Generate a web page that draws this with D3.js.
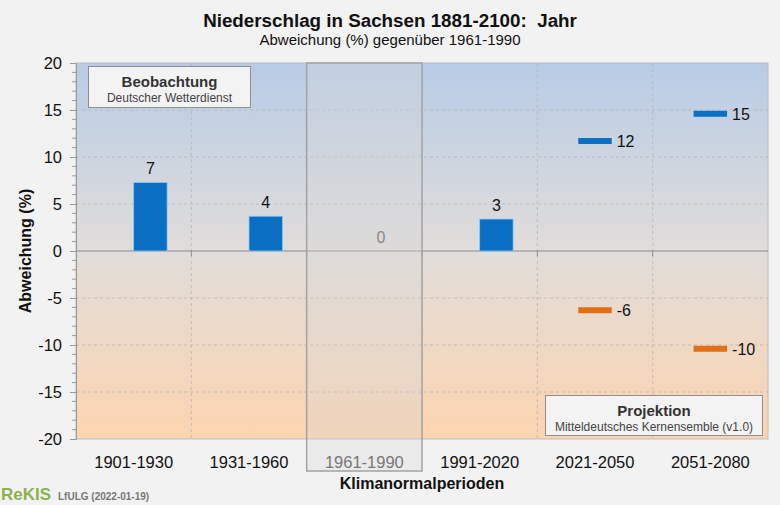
<!DOCTYPE html>
<html>
<head>
<meta charset="utf-8">
<script src="https://cdn.jsdelivr.net/npm/d3@7"></script>
<style>
  body { margin: 0; background: #f2f2f2; }
  svg { display: block; font-family: Arial, "Liberation Sans", sans-serif; }
</style>
</head>
<body>
<div id="chart"></div>
<script>
// Klimanormalperioden und Werte (Abweichung in % gegenueber 1961-1990)
var perioden = ["1901-1930", "1931-1960", "1961-1990", "1991-2020", "2021-2050", "2051-2080"];
var beobPerioden = ["1901-1930", "1931-1960", "1961-1990", "1991-2020"];
var beobWerte = [7.3, 3.7, 0, 3.4];
var projPerioden = ["2021-2050", "2051-2080"];
var projHoch = [11.7, 14.6];
var projTief = [-6.3, -10.4];
var referenz = "1961-1990";
var yTicks = [-20, -15, -10, -5, 0, 5, 10, 15, 20];

var W = 780, H = 505;
var margin = {top: 63, right: 12, bottom: 66, left: 76};

var svg = d3.select("#chart").append("svg")
  .attr("width", W)
  .attr("height", H);

var x = d3.scaleBand().domain(perioden).range([margin.left, W - margin.right]);
var y = d3.scaleLinear().domain([-20, 20]).range([H - margin.bottom, margin.top]);

var bw = x.bandwidth();
var barW = bw * 0.29;

// hintergrund verlauf
var defs = svg.append("defs");
var grad = defs.append("linearGradient")
  .attr("id", "bg").attr("x1", 0).attr("y1", 0).attr("x2", 0).attr("y2", 1);
grad.append("stop").attr("offset", "0%").attr("stop-color", "#b8cce6");
grad.append("stop").attr("offset", "50%").attr("stop-color", "#e1ddda");
grad.append("stop").attr("offset", "100%").attr("stop-color", "#fdd4b0");

svg.append("rect")
  .attr("x", x.range()[0])
  .attr("y", y(20))
  .attr("width", x.range()[1] - x.range()[0])
  .attr("height", y(-20) - y(20))
  .attr("fill", "url(#bg)")
  .attr("stroke", "#bdbdbd");

// gitter
svg.append("g").selectAll("line")
  .data(yTicks.filter(function(d){ return d != 0 && Math.abs(d) != 20; }))
  .enter().append("line")
  .attr("x1", x.range()[0]).attr("x2", x.range()[1])
  .attr("y1", function(d){ return y(d); })
  .attr("y2", function(d){ return y(d); })
  .attr("stroke", "#b5b5b5")
  .attr("stroke-width", 0.8)
  .attr("stroke-dasharray", "3,3");

svg.append("g").selectAll("line")
  .data(perioden.slice(1))
  .enter().append("line")
  .attr("x1", function(d){ return x(d); })
  .attr("x2", function(d){ return x(d); })
  .attr("y1", y(20)).attr("y2", y(-20))
  .attr("stroke", "#b5b5b5")
  .attr("stroke-width", 0.8)
  .attr("stroke-dasharray", "3,3");

// nulllinie
svg.append("line")
  .attr("x1", x.range()[0]).attr("x2", x.range()[1])
  .attr("y1", y(0)).attr("y2", y(0))
  .attr("stroke", "#8c8c8c")
  .attr("stroke-width", 1.2);

svg.append("g").selectAll("line")
  .data(perioden.slice(1))
  .enter().append("line")
  .attr("x1", function(d){ return x(d); })
  .attr("x2", function(d){ return x(d); })
  .attr("y1", y(0)).attr("y2", y(0) + 5)
  .attr("stroke", "#8c8c8c");

// beobachtung (balken)
svg.append("g").selectAll("rect")
  .data(beobWerte)
  .enter().append("rect")
  .attr("x", function(d, i){ return x(beobPerioden[i]) + bw / 2; })
  .attr("y", function(d){ return y(Math.max(0, d)); })
  .attr("width", barW)
  .attr("height", function(d){ return Math.abs(y(d) - y(0)); })
  .attr("fill", "#0a6fc2")
  .attr("stroke", "#8ec8ef")
  .attr("stroke-width", 0.8);

svg.append("g").selectAll("text")
  .data(beobWerte)
  .enter().append("text")
  .attr("x", function(d, i){ return x(beobPerioden[i]) + bw / 2 + barW / 2; })
  .attr("y", function(d){ return y(d) - 8; })
  .attr("text-anchor", "middle")
  .attr("font-size", 16)
  .attr("fill", function(d, i){ return beobPerioden[i] == referenz ? "#666" : "#111"; })
  .text(function(d){ return Math.round(d); });

// projektion (duenne marken)
var proj = [];
projPerioden.forEach(function(p, i){
  proj.push({p: p, v: projHoch[i], c: "#0a6fc2"});
  proj.push({p: p, v: projTief[i], c: "#e36f14"});
});

svg.append("g").selectAll("rect")
  .data(proj)
  .enter().append("rect")
  .attr("x", function(d){ return x(d.p) + bw / 2 - barW / 2; })
  .attr("y", function(d){ return y(d.v) - 3; })
  .attr("width", barW)
  .attr("height", 6)
  .attr("fill", function(d){ return d.c; });

svg.append("g").selectAll("text")
  .data(proj)
  .enter().append("text")
  .attr("x", function(d){ return x(d.p) + bw / 2 + barW / 2 + 5; })
  .attr("y", function(d){ return y(d.v) + 6; })
  .attr("font-size", 16)
  .attr("fill", "#111")
  .text(function(d){ return Math.round(d.v); });

// referenzperiode
svg.append("rect")
  .attr("x", x(referenz))
  .attr("y", y(20))
  .attr("width", bw)
  .attr("height", y(-20) - y(20) + 32)
  .attr("fill", "#d6d6d6")
  .attr("fill-opacity", 0.3)
  .attr("stroke", "#a3a3a3")
  .attr("stroke-width", 1.5);

// y achse
var yAxis = d3.axisLeft(y).tickValues(yTicks).tickSize(6).tickPadding(8)
  .tickFormat(function(d){ return String(d); });
var gy = svg.append("g")
  .attr("transform", "translate(" + margin.left + ",0)")
  .call(yAxis);
gy.select(".domain").attr("stroke", "#9a9a9a");
gy.selectAll(".tick line").attr("stroke", "#9a9a9a");
gy.selectAll(".tick text").attr("font-size", 16.5).attr("fill", "#111").attr("font-family", null);

gy.append("g").selectAll("line")
  .data(d3.range(-20, 21).filter(function(d){ return d % 5 != 0; }))
  .enter().append("line")
  .attr("x1", -4).attr("x2", 0)
  .attr("y1", function(d){ return y(d); })
  .attr("y2", function(d){ return y(d); })
  .attr("stroke", "#9a9a9a");

// x achse
var xAxis = d3.axisBottom(x).tickSize(0).tickPadding(17);
var gx = svg.append("g")
  .attr("transform", "translate(0," + (H - margin.bottom) + ")")
  .call(xAxis);
gx.select(".domain").remove();
gx.selectAll(".tick text")
  .attr("font-size", 16.5)
  .attr("font-family", null)
  .attr("fill", function(d){ return d == referenz ? "#777" : "#111"; });

// beschriftungen
svg.append("text")
  .attr("x", W / 2).attr("y", 27)
  .attr("text-anchor", "middle")
  .attr("font-size", 18.8).attr("font-weight", "bold").attr("fill", "#111")
  .attr("xml:space", "preserve")
  .text("Niederschlag in Sachsen 1881-2100:  Jahr");

svg.append("text")
  .attr("x", W / 2).attr("y", 45)
  .attr("text-anchor", "middle")
  .attr("font-size", 15).attr("fill", "#111")
  .text("Abweichung (%) gegenüber 1961-1990");

svg.append("text")
  .attr("transform", "translate(31," + y(0) + ") rotate(-90)")
  .attr("text-anchor", "middle")
  .attr("font-size", 16).attr("font-weight", "bold").attr("fill", "#111")
  .text("Abweichung (%)");

svg.append("text")
  .attr("x", (x.range()[0] + x.range()[1]) / 2).attr("y", 489)
  .attr("text-anchor", "middle")
  .attr("font-size", 16).attr("font-weight", "bold").attr("fill", "#111")
  .text("Klimanormalperioden");

// legendenkaesten
function kasten(x0, y0, w, h, titel, unter) {
  var g = svg.append("g");
  g.append("rect")
    .attr("x", x0).attr("y", y0).attr("width", w).attr("height", h)
    .attr("fill", "#f3f3f3").attr("stroke", "#8f8f8f");
  g.append("text")
    .attr("x", x0 + w / 2).attr("y", y0 + 20)
    .attr("text-anchor", "middle")
    .attr("font-size", 15).attr("font-weight", "bold").attr("fill", "#333")
    .text(titel);
  g.append("text")
    .attr("x", x0 + w / 2).attr("y", y0 + 35)
    .attr("text-anchor", "middle")
    .attr("font-size", 12).attr("fill", "#444")
    .text(unter);
}
kasten(88.5, 66.5, 162, 41, "Beobachtung", "Deutscher Wetterdienst");
kasten(545.5, 395.5, 217, 40, "Projektion", "Mitteldeutsches Kernensemble (v1.0)");

// fusszeile
svg.append("text")
  .attr("x", 1).attr("y", 500)
  .attr("font-size", 17).attr("font-weight", "bold").attr("fill", "#8db24e")
  .text("ReKIS");
svg.append("text")
  .attr("x", 58).attr("y", 500)
  .attr("font-size", 10).attr("font-weight", "bold").attr("fill", "#777")
  .text("LfULG  (2022-01-19)");
</script>
</body>
</html>
